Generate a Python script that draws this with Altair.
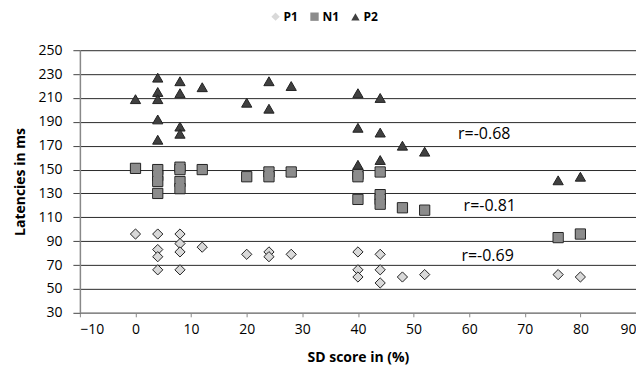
import altair as alt
import pandas as pd

series_order = ["P1", "N1", "P2"]

p1_x = [0, 4, 4, 4, 4, 8, 8, 8, 8, 12, 20, 24, 24, 28, 40, 40, 40, 44, 44, 44, 48, 52, 76, 80]
p1_y = [96, 96, 83, 77, 66, 96, 88, 81, 66, 85, 79, 81, 77, 79, 81, 66, 60, 79, 66, 55, 60, 62, 62, 60]

n1_x = [0, 4, 4, 4, 4, 8, 8, 8, 8, 12, 20, 24, 24, 28, 40, 40, 40, 44, 44, 44, 44, 48, 52, 76, 80]
n1_y = [151, 150, 145, 140, 130, 152, 150, 140, 134, 150, 144, 148, 144, 148, 146, 144, 125, 148, 129, 125, 121, 118, 116, 93, 96]

p2_x = [0, 4, 4, 4, 4, 4, 8, 8, 8, 8, 12, 20, 24, 24, 28, 40, 40, 40, 44, 44, 44, 48, 52, 76, 80]
p2_y = [209, 227, 215, 209, 192, 175, 224, 214, 186, 180, 219, 206, 224, 201, 220, 214, 185, 154, 210, 181, 158, 170, 165, 141, 144]

ann_text = ["r=-0.68", "r=-0.81", "r=-0.69"]
ann_x = [58, 59, 58.6]
ann_y = [179.5, 119.5, 77.6]

x_ticks = list(range(-10, 91, 10))
y_ticks = list(range(30, 251, 20))

rows = []
for name, xs, ys in (("P1", p1_x, p1_y), ("N1", n1_x, n1_y), ("P2", p2_x, p2_y)):
    for a, b in zip(xs, ys):
        rows.append({"series": name, "sd": a, "lat": b})
df = pd.DataFrame(rows)
ann = pd.DataFrame({"text": ann_text, "sd": ann_x, "lat": ann_y})

FONT = "Open Sans"

x_enc = alt.X(
    "sd:Q",
    scale=alt.Scale(domain=[-10, 90], nice=False),
    axis=alt.Axis(
        values=x_ticks, tickCount=20, grid=False, tickSize=4, tickColor="#888888",
        domainColor="#888888", domainWidth=1.5, labelFontSize=14, labelPadding=6,
        labelColor="black", labelOverlap=False, title="SD score in (%)", titleFontSize=14,
        titleFontWeight="bold", titlePadding=14, titleColor="black",
    ),
)
y_enc = alt.Y(
    "lat:Q",
    scale=alt.Scale(domain=[30, 250], nice=False),
    axis=alt.Axis(
        values=y_ticks, tickCount=20, grid=True, gridColor="#2a2a2a", gridWidth=1,
        tickSize=7, tickColor="#444444", domainColor="#888888", domainWidth=1.5,
        labelFontSize=14, labelPadding=11, labelColor="black", labelOverlap=False,
        title="Latencies in ms", titleFontSize=14, titleFontWeight="bold",
        titlePadding=10, titleColor="black",
    ),
)

fill_scale = alt.Scale(domain=series_order, range=["#d9d9d9", "#8c8c8c", "#404040"])
shape_scale = alt.Scale(domain=series_order, range=["diamond", "square", "triangle-up"])

legend = alt.Legend(
    title=None, orient="none", direction="horizontal", legendX=190, legendY=-40,
    labelFont=FONT, labelFontSize=12, labelFontWeight="bold", labelColor="black",
    symbolSize=70, symbolStrokeColor="#222222", symbolStrokeWidth=1,
    labelOffset=2, columnPadding=9,
)

points = alt.Chart(df).mark_point(filled=True, size=105, stroke="#222222", strokeWidth=1, opacity=1).encode(
    x=x_enc,
    y=y_enc,
    fill=alt.Fill("series:N", scale=fill_scale, legend=legend),
    shape=alt.Shape("series:N", scale=shape_scale, legend=legend),
)

sq_fill = alt.Chart(df).transform_filter(alt.datum.series == "N1").mark_point(
    filled=True, shape="square", size=74, color="#8c8c8c", opacity=1, strokeWidth=0
).encode(x="sd:Q", y="lat:Q")

labels = alt.Chart(ann).mark_text(
    align="left", baseline="middle", fontSize=16, font=FONT, color="black"
).encode(x="sd:Q", y="lat:Q", text="text:N")

chart = alt.layer(points, sq_fill, labels).properties(
    width=557, height=263,
    autosize=alt.AutoSizeParams(type="none"),
    padding={"left": 72, "top": 42, "right": 0, "bottom": 52},
).configure(font=FONT).configure_view(stroke=None)

chart.save("out.html", embed_options={"renderer": "svg", "actions": False})
